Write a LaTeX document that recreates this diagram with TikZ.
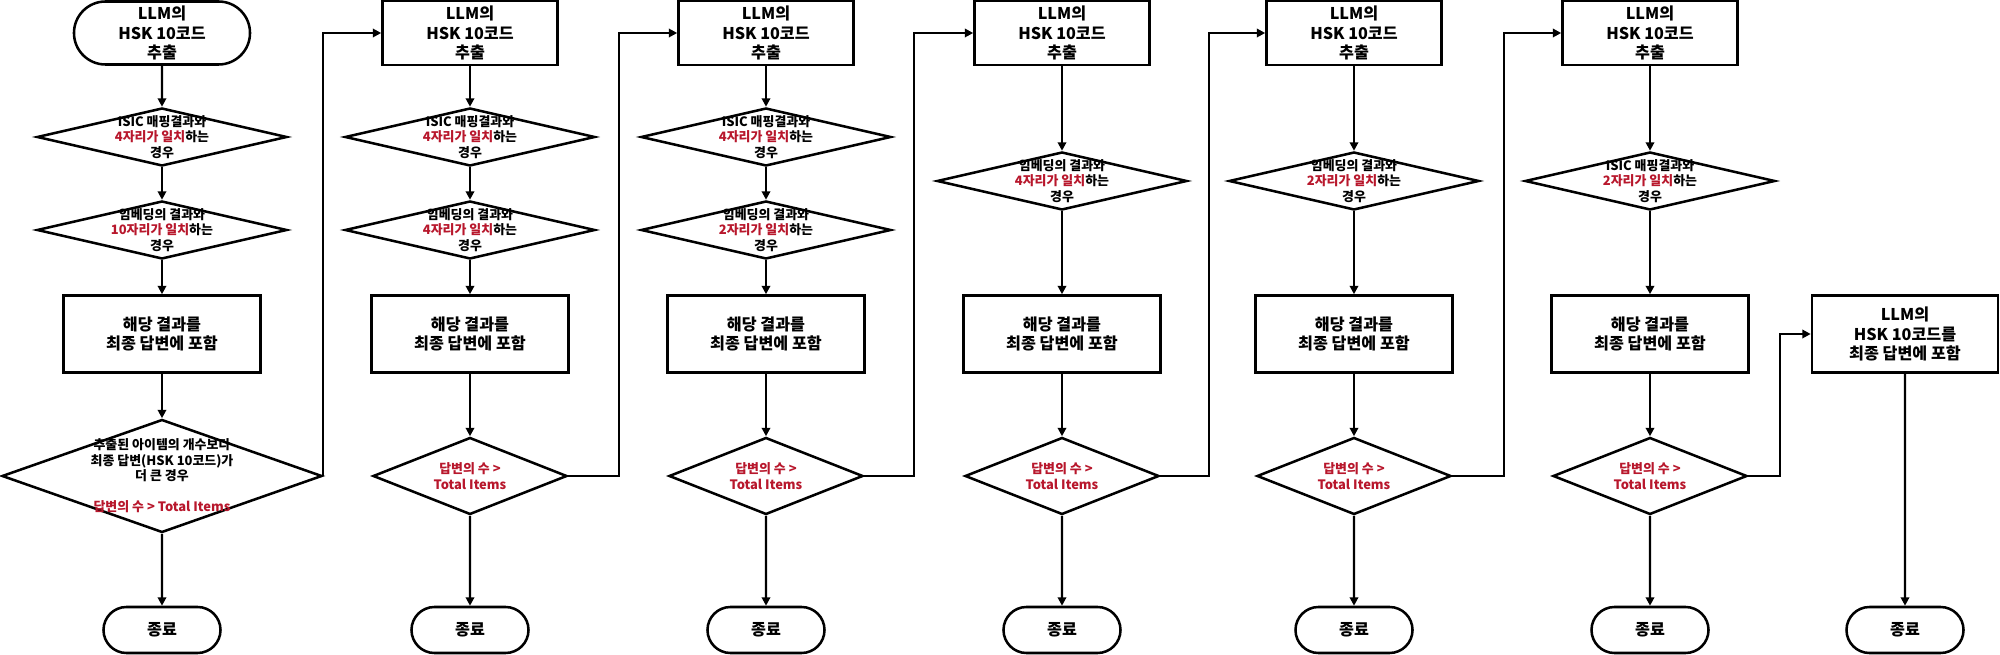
\documentclass[tikz,border=0pt]{standalone}
\usepackage{fontspec}
\setmainfont{Noto Sans CJK KR}
\usepackage{tikz}
\usetikzlibrary{arrows.meta,positioning,calc,shapes.geometric,shapes.misc}
\definecolor{ansred}{HTML}{B8172C}
\tikzset{
  >={Triangle[length=2.1mm,width=2.1mm]},
  % flödesschema
  st/.style={rounded rectangle,draw=black,line width=1.8pt,fill=white,align=center,
             inner sep=0pt,font=\fontsize{11.5}{14}\selectfont\bfseries},
  pb/.style={rectangle,draw=black,line width=1.8pt,fill=white,align=center,
             inner sep=0pt,font=\fontsize{11.5}{14}\selectfont\bfseries},
  dc/.style={diamond,draw=black,line width=1.8pt,fill=white,inner sep=0pt,aspect=1},
  dt/.style={align=center,inner sep=0pt,font=\fontsize{9.2}{11}\selectfont\bfseries},
  en/.style={rounded rectangle,draw=black,line width=1.8pt,fill=white,
             minimum width=2.925cm,minimum height=1.15cm,inner sep=0pt,
             font=\fontsize{11.5}{14}\selectfont\bfseries},
  ln/.style={->,draw=black,line width=1.6pt},
  top/.style={pb,minimum width=4.375cm,minimum height=1.6cm},
  res/.style={pb,minimum width=4.925cm,minimum height=1.925cm},
  cmp/.style={dc,minimum width=6.25cm,minimum height=1.45cm},
  chk/.style={dc,minimum width=4.85cm,minimum height=1.925cm},
}
\newcommand{\rd}[1]{\textcolor{ansred}{#1}}
\begin{document}
\begin{tikzpicture}[x=0.025cm,y=-0.025cm]
  \useasboundingbox (0,0) rectangle (2000,655);
  % kolumn 1
  \node[st,minimum width=4.4cm,minimum height=1.575cm] (s1) at (162,33) {LLM의\\HSK 10코드\\추출};
  \node[cmp,label={[dt]center:{ISIC 매핑결과와\\\rd{4자리가 일치}하는\\경우}}] (a1) at (162,137) {};
  \node[cmp,label={[dt]center:{임베딩의 결과와\\\rd{10자리가 일치}하는\\경우}}] (b1) at (162,230) {};
  \node[res] (r1) at (162,334) {해당 결과를\\최종 답변에 포함};
  \node[dc,minimum width=8cm,minimum height=2.825cm,
        label={[dt]center:{추출된 아이템의 개수보다\\최종 답변(HSK 10코드)가\\더 큰 경우\\[2.2ex]\rd{답변의 수 > Total Items}}}] (k1) at (162,476) {};
  \node[en] (e1) at (162,630) {종료};
  % kolumn 2
  \node[top] (s2) at (470,33) {LLM의\\HSK 10코드\\추출};
  \node[cmp,label={[dt]center:{ISIC 매핑결과와\\\rd{4자리가 일치}하는\\경우}}] (a2) at (470,137) {};
  \node[cmp,label={[dt]center:{임베딩의 결과와\\\rd{4자리가 일치}하는\\경우}}] (b2) at (470,230) {};
  \node[res] (r2) at (470,334) {해당 결과를\\최종 답변에 포함};
  \node[chk,label={[dt]center:{\rd{답변의 수 >}\\\rd{Total Items}}}] (k2) at (470,476) {};
  \node[en] (e2) at (470,630) {종료};
  % kolumn 3
  \node[top] (s3) at (766,33) {LLM의\\HSK 10코드\\추출};
  \node[cmp,label={[dt]center:{ISIC 매핑결과와\\\rd{4자리가 일치}하는\\경우}}] (a3) at (766,137) {};
  \node[cmp,label={[dt]center:{임베딩의 결과와\\\rd{2자리가 일치}하는\\경우}}] (b3) at (766,230) {};
  \node[res] (r3) at (766,334) {해당 결과를\\최종 답변에 포함};
  \node[chk,label={[dt]center:{\rd{답변의 수 >}\\\rd{Total Items}}}] (k3) at (766,476) {};
  \node[en] (e3) at (766,630) {종료};
  % kolumn 4
  \node[top] (s4) at (1062,33) {LLM의\\HSK 10코드\\추출};
  \node[cmp,label={[dt]center:{임베딩의 결과와\\\rd{4자리가 일치}하는\\경우}}] (a4) at (1062,181) {};
  \node[res] (r4) at (1062,334) {해당 결과를\\최종 답변에 포함};
  \node[chk,label={[dt]center:{\rd{답변의 수 >}\\\rd{Total Items}}}] (k4) at (1062,476) {};
  \node[en] (e4) at (1062,630) {종료};
  % kolumn 5
  \node[top] (s5) at (1354,33) {LLM의\\HSK 10코드\\추출};
  \node[cmp,label={[dt]center:{임베딩의 결과와\\\rd{2자리가 일치}하는\\경우}}] (a5) at (1354,181) {};
  \node[res] (r5) at (1354,334) {해당 결과를\\최종 답변에 포함};
  \node[chk,label={[dt]center:{\rd{답변의 수 >}\\\rd{Total Items}}}] (k5) at (1354,476) {};
  \node[en] (e5) at (1354,630) {종료};
  % kolumn 6
  \node[top] (s6) at (1650,33) {LLM의\\HSK 10코드\\추출};
  \node[cmp,label={[dt]center:{ISIC 매핑결과와\\\rd{2자리가 일치}하는\\경우}}] (a6) at (1650,181) {};
  \node[res] (r6) at (1650,334) {해당 결과를\\최종 답변에 포함};
  \node[chk,label={[dt]center:{\rd{답변의 수 >}\\\rd{Total Items}}}] (k6) at (1650,476) {};
  \node[en] (e6) at (1650,630) {종료};
  % kolumn 7
  \node[pb,minimum width=4.65cm,minimum height=1.925cm] (s7) at (1905,334) {LLM의\\HSK 10코드를\\최종 답변에 포함};
  \node[en] (e7) at (1905,630) {종료};
  % pilar
  \draw[ln] (s1) -- (a1);
  \draw[ln] (a1) -- (b1);
  \draw[ln] (b1) -- (r1);
  \draw[ln] (r1) -- (k1);
  \draw[ln] (k1) -- (e1);
  \draw[ln] (k1.east) |- (s2.west);
  \draw[ln] (s2) -- (a2);
  \draw[ln] (a2) -- (b2);
  \draw[ln] (b2) -- (r2);
  \draw[ln] (r2) -- (k2);
  \draw[ln] (k2) -- (e2);
  \draw[ln] (k2.east) -- ++(51,0) |- (s3.west);
  \draw[ln] (s3) -- (a3);
  \draw[ln] (a3) -- (b3);
  \draw[ln] (b3) -- (r3);
  \draw[ln] (r3) -- (k3);
  \draw[ln] (k3) -- (e3);
  \draw[ln] (k3.east) -- ++(50,0) |- (s4.west);
  \draw[ln] (s4) -- (a4);
  \draw[ln] (a4) -- (r4);
  \draw[ln] (r4) -- (k4);
  \draw[ln] (k4) -- (e4);
  \draw[ln] (k4.east) -- ++(49,0) |- (s5.west);
  \draw[ln] (s5) -- (a5);
  \draw[ln] (a5) -- (r5);
  \draw[ln] (r5) -- (k5);
  \draw[ln] (k5) -- (e5);
  \draw[ln] (k5.east) -- ++(52,0) |- (s6.west);
  \draw[ln] (s6) -- (a6);
  \draw[ln] (a6) -- (r6);
  \draw[ln] (r6) -- (k6);
  \draw[ln] (k6) -- (e6);
  \draw[ln] (k6.east) -- ++(32,0) |- (s7.west);
  \draw[ln] (s7) -- (e7);
\end{tikzpicture}
\end{document}
